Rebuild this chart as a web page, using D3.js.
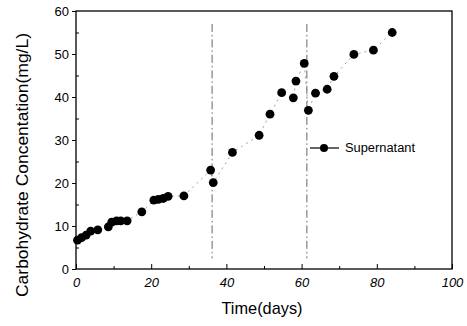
<!DOCTYPE html>
<html>
<head>
<meta charset="utf-8">
<script src="https://cdn.jsdelivr.net/npm/d3@7"></script>
<style>
  body { margin: 0; background: #fff; }
  svg { font-family: Arial, "Liberation Sans", sans-serif; }
</style>
</head>
<body>
<div id="chart"></div>
<script>
// sampling days and carbohydrate values
const days = [0.4, 1.5, 2.7, 3.9, 5.8, 8.6, 9.5, 10.8, 11.9, 13.6, 17.5, 20.7, 21.9, 23.2, 24.5, 28.7,
  35.8, 36.5, 41.6, 48.7, 51.6, 54.7, 57.8, 58.5, 60.7, 61.8, 63.7, 66.8, 68.6, 73.9, 79.1, 84.1]
const supernatant = [6.7, 7.3, 7.9, 8.8, 9.1, 9.8, 10.9, 11.2, 11.2, 11.2, 13.3, 16.0, 16.2, 16.4, 16.9, 17.0,
  23.0, 20.1, 27.1, 31.1, 36.0, 41.0, 39.8, 43.7, 47.8, 36.9, 40.9, 41.8, 44.8, 49.9, 50.9, 55.0]
const phaseBreaks = [36.2, 61.4]
const xTicks = [0, 20, 40, 60, 80, 100]
const yTicks = [0, 10, 20, 30, 40, 50, 60]

const width = 467, height = 326
const margin = {top: 11, right: 15, bottom: 57, left: 76}

const svg = d3.select("#chart")
  .append("svg")
  .attr("width", width)
  .attr("height", height)

const x = d3.scaleLinear().domain([0, 100]).range([margin.left, width - margin.right])
const y = d3.scaleLinear().domain([0, 60]).range([height - margin.bottom, margin.top])

// frame
svg.append("rect")
  .attr("x", x(0)).attr("y", y(60))
  .attr("width", x(100) - x(0)).attr("height", y(0) - y(60))
  .attr("fill", "none").attr("stroke", "#000").attr("stroke-width", 1.3)

// x axis: inward ticks
const xAxis = svg.append("g")
  .attr("transform", `translate(0,${y(0)})`)
  .call(d3.axisBottom(x).tickValues(xTicks).tickSize(-5).tickPadding(9).tickFormat(d3.format("d")))
xAxis.call(g => g.select(".domain").remove())
xAxis.selectAll("text").attr("font-size", 13).attr("font-style", "italic").attr("fill", "#000")
svg.append("g")
  .attr("transform", `translate(0,${y(0)})`)
  .call(d3.axisBottom(x).tickValues(d3.range(10, 100, 20)).tickSize(-3).tickFormat(""))
  .call(g => g.select(".domain").remove())

// y axis: outward ticks
const yAxis = svg.append("g")
  .attr("transform", `translate(${x(0)},0)`)
  .call(d3.axisLeft(y).tickValues(yTicks).tickSize(4).tickPadding(3))
yAxis.call(g => g.select(".domain").remove())
yAxis.selectAll("text").attr("font-size", 13).attr("fill", "#000")
svg.append("g")
  .attr("transform", `translate(${x(0)},0)`)
  .call(d3.axisLeft(y).tickValues(d3.range(5, 60, 10)).tickSize(-3).tickFormat(""))
  .call(g => g.select(".domain").remove())

// phase dividers (dash-dot)
svg.append("g")
  .selectAll("line")
  .data(phaseBreaks)
  .join("line")
  .attr("x1", d => x(d)).attr("x2", d => x(d))
  .attr("y1", y(57)).attr("y2", y(2.5))
  .attr("stroke", "#555").attr("stroke-width", 0.9)
  .attr("stroke-dasharray", "8,3,1.5,3")

// connecting line, very faint in the scan
const pts = days.map((d, i) => [d, supernatant[i]])
const line = d3.line().x(d => x(d[0])).y(d => y(d[1]))
svg.append("path")
  .datum(pts)
  .attr("d", line)
  .attr("fill", "none")
  .attr("stroke", "#777")
  .attr("stroke-width", 0.7)
  .attr("stroke-dasharray", "2,4")

svg.append("g")
  .selectAll("circle")
  .data(pts)
  .join("circle")
  .attr("cx", d => x(d[0]))
  .attr("cy", d => y(d[1]))
  .attr("r", 4.4)
  .attr("fill", "#000")

// legend
const lg = svg.append("g").attr("transform", "translate(310,148)")
lg.append("line").attr("x1", 0).attr("x2", 29).attr("stroke", "#000").attr("stroke-width", 1.2)
lg.append("circle").attr("cx", 14).attr("r", 4).attr("fill", "#000")
lg.append("text").attr("x", 35).attr("dy", "0.35em").attr("font-size", 12)
  .attr("textLength", 70).attr("lengthAdjust", "spacingAndGlyphs").text("Supernatant")

// axis titles
svg.append("text")
  .attr("x", 262)
  .attr("y", 314)
  .attr("text-anchor", "middle")
  .attr("font-size", 17)
  .attr("textLength", 81).attr("lengthAdjust", "spacingAndGlyphs")
  .text("Time(days)")

svg.append("text")
  .attr("transform", `translate(28,165) rotate(-90)`)
  .attr("text-anchor", "middle")
  .attr("font-size", 17)
  .attr("textLength", 264).attr("lengthAdjust", "spacingAndGlyphs")
  .text("Carbohydrate Concentation(mg/L)")
</script>
</body>
</html>
